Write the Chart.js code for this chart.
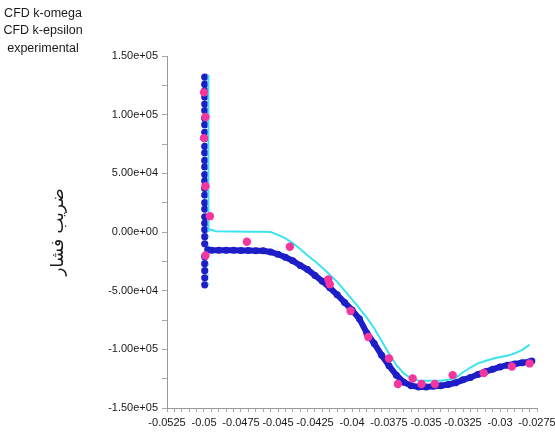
<!DOCTYPE html>
<html>
<head>
<meta charset="utf-8">
<script src="https://cdn.jsdelivr.net/npm/chart.js@4/dist/chart.umd.min.js"></script>
<style>
  html, body { margin: 0; padding: 0; background: #ffffff; }
  #c { display: block; }
</style>
</head>
<body>
<canvas id="c" width="555" height="442"></canvas>
<script>
// ---------- data ----------
const seriesNames = ['CFD k-omega', 'CFD k-epsilon', 'experimental'];
const yTitle = 'ضریب فشار';

const xTickLabels = ['-0.0525', '-0.05', '-0.0475', '-0.045', '-0.0425', '-0.04', '-0.0375', '-0.035', '-0.0325', '-0.03', '-0.0275'];
const yTickLabels = ['-1.50e+05', '-1.00e+05', '-5.00e+04', '0.00e+00', '5.00e+04', '1.00e+05', '1.50e+05'];

// k-omega: points along the wall (vertical column)
const komegaWallX = [-0.04995, -0.04995, -0.04995, -0.04995, -0.04995, -0.04995, -0.04995, -0.04995, -0.04995, -0.04995,
                     -0.04995, -0.04995, -0.04995, -0.04995, -0.04995, -0.04995, -0.04995, -0.04995, -0.04995, -0.04995,
                     -0.04995, -0.04995, -0.04995, -0.04995, -0.04995, -0.04995, -0.04995, -0.04995, -0.04995, -0.04995];
const komegaWallY = [132000, 126000, 120500, 115000, 109000, 103500, 97000, 91500, 85000, 79500,
                     73000, 67500, 61000, 55500, 49000, 43500, 37000, 31500, 25000, 19500,
                     13000, 7500, 2000, -4000, -10000, -21000, -27000, -33000, -39000, -45000];

// k-omega: curve along the surface
const komegaX = [-0.04975, -0.0495, -0.0490, -0.0485, -0.0480, -0.0475, -0.0470, -0.0465, -0.0460, -0.0455,
                 -0.0450, -0.0445, -0.0440, -0.0435, -0.0430, -0.0425, -0.0420, -0.0415, -0.0410, -0.0405,
                 -0.0400, -0.0395, -0.0390, -0.0385, -0.0380, -0.0375, -0.0370, -0.0365, -0.0360, -0.0355,
                 -0.0350, -0.0345, -0.0340, -0.0335, -0.0330, -0.0325, -0.0320, -0.0315, -0.0310, -0.0305,
                 -0.0300, -0.0295, -0.0290, -0.0285, -0.0280, -0.02785];
const komegaY = [-15000, -15500, -15500, -15500, -15500, -15800, -15800, -16000, -16000, -17000,
                 -19000, -21500, -24500, -28500, -32000, -37000, -42000, -47500, -53500, -60000,
                 -66500, -74000, -86000, -95000, -105000, -114000, -122000, -128000, -131000, -132000,
                 -132000, -131500, -131000, -130000, -128500, -126000, -124000, -121500, -119000, -117000,
                 -115000, -113500, -112500, -111500, -110500, -110000];

// k-epsilon line (first segment is the faint part below the wall)
const kepsX = [-0.0497, -0.0497, -0.0497, -0.0497, -0.0492, -0.0480, -0.0470, -0.0460, -0.0455, -0.0450,
               -0.0445, -0.0440, -0.0435, -0.0430, -0.0425, -0.0420, -0.0415, -0.0410, -0.0405, -0.0400,
               -0.0395, -0.0390, -0.0385, -0.0380, -0.0375, -0.0370, -0.0365, -0.0360, -0.0355, -0.0350,
               -0.0345, -0.0340, -0.0335, -0.0330, -0.0325, -0.0320, -0.0315, -0.0310, -0.0305, -0.0300,
               -0.0295, -0.0290, -0.0285, -0.0280];
const kepsY = [-45000, 0, 134000, 2500, 700, 400, 300, 300, 0, -2500,
               -5500, -9500, -14500, -20000, -25000, -30500, -36500, -42500, -50000, -57500,
               -65000, -73000, -82000, -93000, -103500, -113500, -120500, -125000, -126500, -126800,
               -126800, -126800, -126000, -124500, -119500, -115500, -112000, -110000, -108000, -106500,
               -105500, -103500, -100500, -96000];

// experimental
const expX = [-0.0500, -0.0499, -0.0500, -0.0499, -0.0496, -0.0499, -0.0471, -0.0442, -0.0416, -0.0415,
              -0.0401, -0.0389, -0.0375, -0.0369, -0.0359, -0.0353, -0.0344, -0.0332, -0.0311, -0.0292,
              -0.0280];
const expY = [119000, 98000, 80000, 39000, 13500, -20000, -8300, -12600, -40500, -44500,
              -67300, -89500, -107800, -129600, -124800, -129600, -129600, -122000, -120300, -114600,
              -112000];

// ---------- build ----------
const pts = (xs, ys) => xs.map((x, i) => ({ x: x, y: ys[i] }));

const X_MIN = -0.0525, X_MAX = -0.0275, X_STEP = 0.0005;
const Y_MIN = -150000, Y_MAX = 150000, Y_STEP = 25000;

const BLUE = '#1e1ec8';
const CYAN = '#3ce3ee';
const PINK = '#f5369e';
const FONT = '"Liberation Sans", Arial, sans-serif';

const legendTextPlugin = {
  id: 'legendText',
  afterDraw(chart) {
    const ctx = chart.ctx;
    ctx.save();
    ctx.font = '12.5px ' + FONT;
    ctx.fillStyle = '#1a1a1a';
    ctx.textAlign = 'center';
    ctx.textBaseline = 'middle';
    const ys = [14, 31, 49];
    seriesNames.forEach((n, i) => ctx.fillText(n, 43, ys[i]));
    ctx.restore();
  }
};

new Chart(document.getElementById('c'), {
  type: 'scatter',
  data: {
    datasets: [
      {
        label: seriesNames[0],
        data: pts(komegaX, komegaY),
        showLine: true,
        borderColor: BLUE,
        backgroundColor: BLUE,
        borderWidth: 6,
        pointRadius: 3.5,
        pointBorderWidth: 0,
        tension: 0,
        order: 4
      },
      {
        label: seriesNames[0] + ' wall',
        data: pts(komegaWallX, komegaWallY),
        showLine: false,
        borderColor: BLUE,
        backgroundColor: BLUE,
        pointRadius: 3.6,
        pointBorderWidth: 0,
        order: 3
      },
      {
        label: seriesNames[1],
        data: pts(kepsX, kepsY),
        showLine: true,
        borderColor: CYAN,
        backgroundColor: CYAN,
        borderWidth: 2,
        pointRadius: 0,
        tension: 0,
        segment: {
          borderDash: ctx => ctx.p0DataIndex === 0 ? [1.5, 8] : undefined,
          borderColor: ctx => ctx.p0DataIndex === 0 ? 'rgba(60,227,238,0.6)' : undefined
        },
        order: 2
      },
      {
        label: seriesNames[2],
        data: pts(expX, expY),
        showLine: false,
        borderColor: PINK,
        backgroundColor: PINK,
        pointRadius: 4.2,
        pointBorderWidth: 0,
        order: 1
      }
    ]
  },
  options: {
    responsive: false,
    animation: false,
    devicePixelRatio: 1,
    layout: { padding: { top: 56, right: 18, bottom: 0, left: 0 } },
    plugins: {
      legend: { display: false },
      tooltip: { enabled: false }
    },
    scales: {
      x: {
        type: 'linear',
        min: X_MIN,
        max: X_MAX,
        afterFit(s) { s.height = 34; s.paddingLeft = 0; s.paddingRight = 0; },
        border: { display: true, color: '#9a9a9a', width: 1 },
        grid: { drawOnChartArea: false, drawTicks: true, tickLength: 4, color: '#a8a8a8' },
        ticks: {
          stepSize: X_STEP,
          maxTicksLimit: 200,
          autoSkip: false,
          maxRotation: 0,
          minRotation: 0,
          padding: 4,
          color: '#1a1a1a',
          font: { family: FONT, size: 11 },
          callback(v) {
            const k = Math.round((v - X_MIN) / X_STEP);
            return k % 5 === 0 ? xTickLabels[k / 5] : '';
          }
        }
      },
      y: {
        type: 'linear',
        min: Y_MIN,
        max: Y_MAX,
        afterFit(s) { s.width = 167; s.paddingTop = 0; s.paddingBottom = 0; },
        border: { display: true, color: '#9a9a9a', width: 1 },
        grid: { drawOnChartArea: false, drawTicks: true, tickLength: 5, color: '#a8a8a8' },
        ticks: {
          stepSize: Y_STEP,
          maxTicksLimit: 200,
          autoSkip: false,
          padding: 4,
          color: '#1a1a1a',
          font: { family: FONT, size: 11 },
          callback(v) {
            const k = Math.round((v - Y_MIN) / Y_STEP);
            return k % 2 === 0 ? yTickLabels[k / 2] : '';
          }
        },
        title: {
          display: true,
          text: yTitle,
          color: '#1a1a1a',
          font: { family: '"DejaVu Sans", "Noto Sans", sans-serif', size: 17 },
          padding: { top: 48, bottom: 0 }
        }
      }
    }
  },
  plugins: [legendTextPlugin]
});
</script>
</body>
</html>
